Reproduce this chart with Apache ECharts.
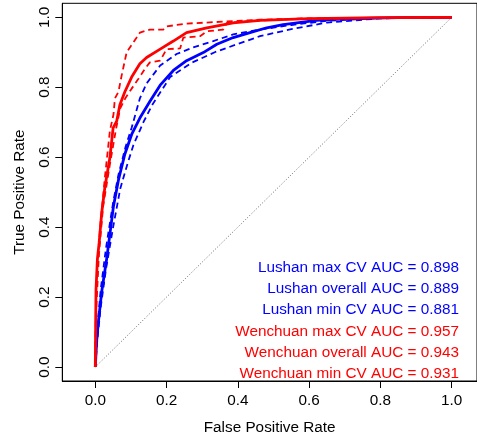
<!DOCTYPE html>
<html>
<head>
<meta charset="utf-8">
<script src="https://cdn.jsdelivr.net/npm/echarts@6/dist/echarts.min.js"></script>
<style>
  html, body { margin: 0; padding: 0; background: #fff; }
  #roc { width: 477px; height: 440px; }
</style>
</head>
<body>
<div id="roc"></div>
<script>
// ROC curves (FPR / TPR pairs)
const lushanMaxFpr = [0, 0.004, 0.015, 0.03, 0.05, 0.065, 0.085, 0.102, 0.125, 0.144, 0.182, 0.228, 0.275, 0.331, 0.387, 0.462, 0.55, 0.65, 0.8, 1];
const lushanMaxTpr = [0, 0.09, 0.22, 0.34, 0.47, 0.55, 0.63, 0.684, 0.768, 0.811, 0.862, 0.895, 0.914, 0.932, 0.951, 0.965, 0.978, 0.99, 0.998, 1];

const lushanAllFpr = [0, 0.004, 0.008, 0.018, 0.032, 0.041, 0.051, 0.065, 0.083, 0.102, 0.125, 0.153, 0.182, 0.219, 0.256, 0.303, 0.341, 0.387, 0.434, 0.481, 0.527, 0.621, 0.715, 0.85, 1];
const lushanAllTpr = [0, 0.076, 0.123, 0.216, 0.31, 0.38, 0.46, 0.535, 0.609, 0.665, 0.712, 0.759, 0.806, 0.848, 0.876, 0.899, 0.923, 0.942, 0.956, 0.97, 0.979, 0.991, 0.996, 0.999, 1];

const lushanMinFpr = [0, 0.005, 0.015, 0.03, 0.05, 0.07, 0.09, 0.107, 0.135, 0.16, 0.21, 0.27, 0.335, 0.395, 0.462, 0.55, 0.65, 0.8, 1];
const lushanMinTpr = [0, 0.07, 0.17, 0.28, 0.4, 0.51, 0.58, 0.635, 0.7, 0.75, 0.829, 0.87, 0.9, 0.922, 0.946, 0.966, 0.985, 0.997, 1];

const wenchuanMaxFpr = [0, 0.002, 0.013, 0.027, 0.041, 0.051, 0.055, 0.065, 0.074, 0.088, 0.116, 0.125, 0.153, 0.191, 0.2, 0.256, 0.369, 0.462, 0.6, 1];
const wenchuanMaxTpr = [0, 0.2, 0.394, 0.543, 0.676, 0.722, 0.768, 0.787, 0.834, 0.9, 0.942, 0.956, 0.965, 0.965, 0.974, 0.982, 0.988, 0.993, 0.997, 1];

const wenchuanAllFpr = [0, 0.001, 0.002, 0.006, 0.011, 0.018, 0.027, 0.041, 0.05, 0.06, 0.069, 0.083, 0.102, 0.125, 0.144, 0.182, 0.219, 0.256, 0.313, 0.387, 0.462, 0.6, 0.8, 1];
const wenchuanAllTpr = [0, 0.12, 0.22, 0.31, 0.357, 0.441, 0.515, 0.599, 0.684, 0.703, 0.75, 0.787, 0.829, 0.867, 0.885, 0.909, 0.932, 0.956, 0.97, 0.984, 0.991, 0.996, 0.999, 1];

const wenchuanMinFpr = [0, 0.002, 0.01, 0.022, 0.041, 0.058, 0.07, 0.085, 0.102, 0.121, 0.139, 0.153, 0.182, 0.2, 0.238, 0.247, 0.294, 0.313, 0.359, 0.369, 0.45, 0.55, 1];
const wenchuanMinTpr = [0, 0.15, 0.32, 0.46, 0.58, 0.68, 0.74, 0.77, 0.796, 0.824, 0.852, 0.871, 0.876, 0.909, 0.911, 0.942, 0.946, 0.96, 0.965, 0.984, 0.99, 0.995, 1];

const chanceFpr = [0, 1];
const chanceTpr = [0, 1];

const tickValues = [0, 0.2, 0.4, 0.6, 0.8, 1.0];

const legendNames = ["Lushan max CV", "Lushan overall", "Lushan min CV", "Wenchuan max CV", "Wenchuan overall", "Wenchuan min CV"];
const legendAuc = [0.898, 0.889, 0.881, 0.957, 0.943, 0.931];

const BLUE = "#0000ff";
const RED = "#ff0000";
const FONT = "'Liberation Sans', Arial, Helvetica, sans-serif";
const FS = 15.3;

const pairs = (xs, ys) => xs.map((x, i) => [x, ys[i]]);

const curve = (name, xs, ys, color, dashed) => ({
  name,
  type: "line",
  data: pairs(xs, ys),
  showSymbol: false,
  silent: true,
  animation: false,
  lineStyle: {
    color,
    width: dashed ? 1.8 : 2.8,
    type: dashed ? [6, 4] : "solid"
  }
});

const axisCommon = {
  type: "value",
  splitLine: { show: false },
  axisLine: { show: true, onZero: false, lineStyle: { color: "#000", width: 1 } },
  axisTick: { show: true, length: 7, customValues: tickValues, lineStyle: { color: "#000" } },
  axisLabel: {
    customValues: tickValues,
    color: "#000",
    fontFamily: FONT,
    fontSize: FS,
    formatter: (v) => v.toFixed(1)
  },
  nameLocation: "middle",
  nameTextStyle: { color: "#000", fontFamily: FONT, fontSize: FS }
};

const option = {
  animation: false,
  backgroundColor: "#fff",
  grid: {
    left: 62.3,
    right: 0,
    top: 3.3,
    bottom: 52.1,
    show: true,
    borderColor: "#000",
    borderWidth: 1
  },
  xAxis: {
    ...axisCommon,
    min: -0.0926,
    max: 1.071,
    name: "False Positive Rate",
    nameGap: 39,
    axisLabel: { ...axisCommon.axisLabel, margin: 12 }
  },
  yAxis: {
    ...axisCommon,
    min: -0.04,
    max: 1.04,
    name: "True Positive Rate",
    nameGap: 35,
    nameRotate: 90,
    axisLabel: { ...axisCommon.axisLabel, rotate: 90, margin: 10 }
  },
  series: [
    {
      name: "chance",
      type: "line",
      data: pairs(chanceFpr, chanceTpr),
      showSymbol: false,
      silent: true,
      lineStyle: { color: "#666", width: 1, type: [1, 2] }
    },
    curve("Lushan max CV", lushanMaxFpr, lushanMaxTpr, BLUE, true),
    curve("Lushan min CV", lushanMinFpr, lushanMinTpr, BLUE, true),
    curve("Lushan overall", lushanAllFpr, lushanAllTpr, BLUE, false),
    curve("Wenchuan max CV", wenchuanMaxFpr, wenchuanMaxTpr, RED, true),
    curve("Wenchuan min CV", wenchuanMinFpr, wenchuanMinTpr, RED, true),
    curve("Wenchuan overall", wenchuanAllFpr, wenchuanAllTpr, RED, false)
  ],
  // legend text, right justified like the R legend
  graphic: legendNames.map((name, i) => ({
    type: "text",
    x: 459,
    y: 267.3 + i * 21.35,
    silent: true,
    style: {
      text: name + " AUC = " + legendAuc[i].toFixed(3),
      fill: i < 3 ? BLUE : RED,
      fontFamily: FONT,
      fontSize: FS,
      align: "right",
      verticalAlign: "middle"
    }
  }))
};

const chart = echarts.init(document.getElementById("roc"));
chart.setOption(option);
</script>
</body>
</html>
